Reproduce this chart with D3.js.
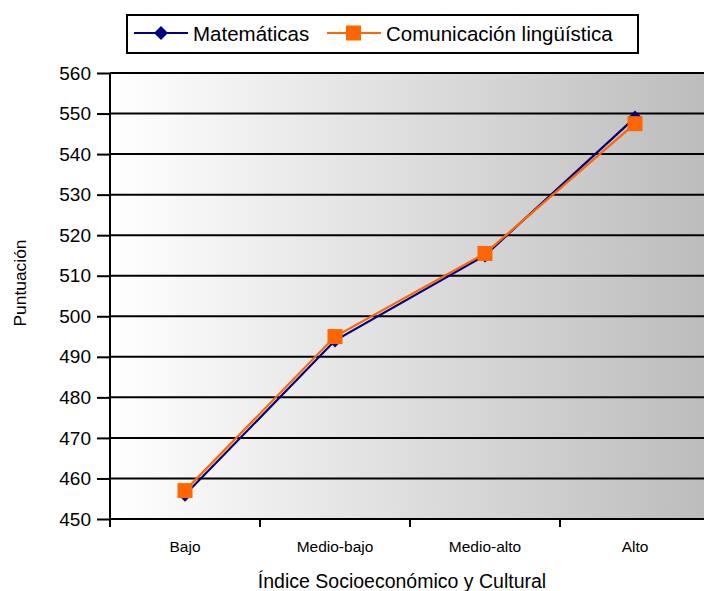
<!DOCTYPE html>
<html><head><meta charset="utf-8">
<script src="https://cdn.jsdelivr.net/npm/d3@7"></script>
<style>body{margin:0;background:#fff}svg{display:block;font-family:"Liberation Sans",Arial,sans-serif}</style>
</head><body>
<svg id="c" width="704" height="591"></svg>
<script>
const categories = ["Bajo", "Medio-bajo", "Medio-alto", "Alto"];
const matematicas = [456, 494, 515, 549];
const comunicacion = [457, 495, 515.5, 547.5];
const yTicks = [450, 460, 470, 480, 490, 500, 510, 520, 530, 540, 550, 560];
const seriesNames = ["Matemáticas", "Comunicación lingüística"];

const svg = d3.select("#c");
const L = 110, R = 710, T = 73, B = 519;
const x = d3.scaleBand().domain(categories).range([L, R]);
const y = d3.scaleLinear().domain([450, 560]).range([B, T]);

const defs = svg.append("defs");
const g = defs.append("linearGradient").attr("id", "bg").attr("x1", "0").attr("x2", "1").attr("y1", "0").attr("y2", "0");
g.append("stop").attr("offset", "0").attr("stop-color", "#ffffff");
g.append("stop").attr("offset", "1").attr("stop-color", "#bcbcbc");
svg.append("rect").attr("x", L).attr("y", T).attr("width", R - L).attr("height", B - T).attr("fill", "url(#bg)");

// gridlines
svg.append("g").selectAll("line").data(yTicks.slice(1)).join("line")
  .attr("x1", L).attr("x2", R).attr("y1", d => y(d)).attr("y2", d => y(d))
  .attr("stroke", "#000").attr("stroke-width", 2);

// y axis
const ya = svg.append("g").attr("transform", `translate(${L},0)`)
  .call(d3.axisLeft(y).tickValues(yTicks).tickSize(13).tickPadding(6).tickFormat(d3.format("d")));
ya.select(".domain").attr("stroke-width", 2).attr("d", `M0,${T}V${B}`);
ya.selectAll(".tick line").attr("stroke-width", 2);
ya.selectAll("text").attr("font-size", 19).attr("fill", "#000").attr("font-family", "Liberation Sans, Arial, sans-serif");

// x axis
const xa = svg.append("g").attr("transform", `translate(0,${B})`)
  .call(d3.axisBottom(x).tickSize(0).tickPadding(22));
xa.select(".domain").remove();
xa.selectAll("text").attr("font-size", 15.5).attr("fill", "#000").attr("font-family", "Liberation Sans, Arial, sans-serif");
svg.append("line").attr("x1", L - 1).attr("x2", R).attr("y1", B).attr("y2", B).attr("stroke", "#000").attr("stroke-width", 2);
svg.append("g").selectAll("line").data(categories).join("line")
  .attr("x1", d => x(d)).attr("x2", d => x(d)).attr("y1", B).attr("y2", B + 8)
  .attr("stroke", "#000").attr("stroke-width", 2);

const cx = d => x(d) + x.bandwidth() / 2;
const line = d3.line().x(d => cx(d[0])).y(d => y(d[1]));

const mData = categories.map((c, i) => [c, matematicas[i]]);
const cData = categories.map((c, i) => [c, comunicacion[i]]);
svg.append("path").attr("d", line(mData)).attr("fill", "none").attr("stroke", "#000080").attr("stroke-width", 2.2);
const diamond = s => `M0,${-s}L${s},0L0,${s}L${-s},0Z`;
svg.append("g").selectAll("path").data(mData).join("path")
  .attr("transform", d => `translate(${cx(d[0])},${y(d[1])})`).attr("d", diamond(7)).attr("fill", "#000080");

svg.append("path").attr("d", line(cData)).attr("fill", "none").attr("stroke", "#ff6600").attr("stroke-width", 2.2);
svg.append("g").selectAll("rect").data(cData).join("rect")
  .attr("x", d => cx(d[0]) - 7.5).attr("y", d => y(d[1]) - 7.5).attr("width", 15).attr("height", 15).attr("fill", "#ff6600");

// axis titles
svg.append("text").attr("x", 402).attr("y", 588).attr("text-anchor", "middle").attr("font-size", 19.5).text("Índice Socioeconómico y Cultural");
svg.append("text").attr("transform", "translate(26,283) rotate(-90)").attr("text-anchor", "middle").attr("font-size", 17.4).text("Puntuación");

// legend
const lg = svg.append("g");
lg.append("rect").attr("x", 127).attr("y", 15).attr("width", 511).attr("height", 38).attr("fill", "#fff").attr("stroke", "#000").attr("stroke-width", 2);
lg.append("line").attr("x1", 134).attr("x2", 188).attr("y1", 33).attr("y2", 33).attr("stroke", "#000080").attr("stroke-width", 2.2);
lg.append("path").attr("transform", "translate(161,33)").attr("d", diamond(7)).attr("fill", "#000080");
lg.append("text").attr("x", 193).attr("y", 40.5).attr("font-size", 20.5).text(seriesNames[0]);
lg.append("line").attr("x1", 327).attr("x2", 381).attr("y1", 33).attr("y2", 33).attr("stroke", "#ff6600").attr("stroke-width", 2.2);
lg.append("rect").attr("x", 346).attr("y", 25.5).attr("width", 15).attr("height", 15).attr("fill", "#ff6600");
lg.append("text").attr("x", 386).attr("y", 40.5).attr("font-size", 20.5).text(seriesNames[1]);
</script>
</body></html>
